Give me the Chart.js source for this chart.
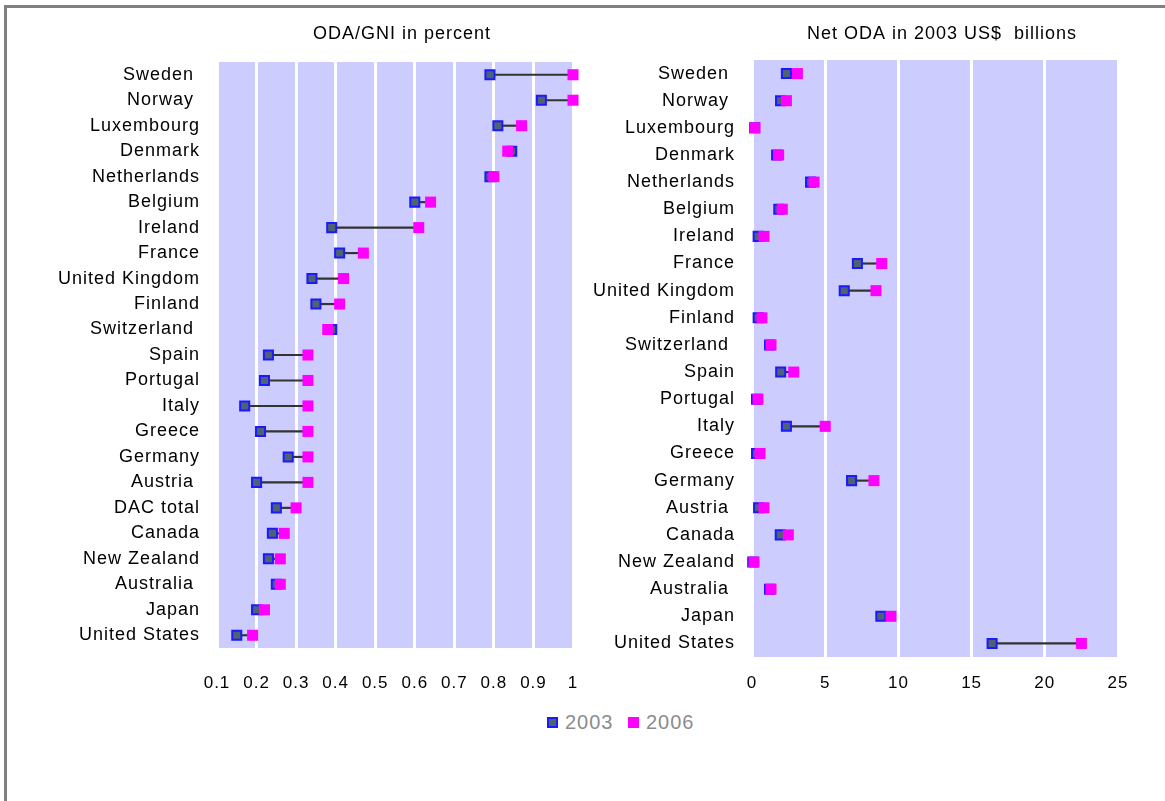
<!DOCTYPE html>
<html>
<head>
<meta charset="utf-8">
<title>ODA/GNI and net ODA, 2003 and 2006</title>
<script src="https://cdn.jsdelivr.net/npm/chart.js@4.4.1/dist/chart.umd.min.js"></script>
<style>
  html, body { margin: 0; padding: 0; background: #fff; }
  body { width: 1165px; height: 801px; position: relative; overflow: hidden; font-family: 'Liberation Sans', Arial, sans-serif; }
  #frame { position: absolute; left: 4px; top: 5px; width: 1180px; height: 820px; border-top: 3px solid #808080; border-left: 3px solid #808080; }
  #leftBox { position: absolute; left: 0; top: 0; width: 600px; height: 700px; }
  #rightBox { position: absolute; left: 580px; top: 0; width: 585px; height: 710px; }
  .key { position: absolute; top: 717px; }
  .k03 { left: 547px; width: 7px; height: 7px; border: 2px solid #1a1aff; background: #4f6272; }
  .k06 { left: 628px; width: 11px; height: 11px; background: #ff00ff; }
  .lab { position: absolute; top: 710px; font-size: 20px; line-height: 24px; color: #8c8c8c; letter-spacing: 1px; }
</style>
</head>
<body>
<div id="frame"></div>
<div id="leftBox"><canvas id="gniChart"></canvas></div>
<div id="rightBox"><canvas id="odaChart"></canvas></div>
<span class="key k03"></span><span class="lab" style="left:565px">2003</span>
<span class="key k06"></span><span class="lab" style="left:646px">2006</span>
<script>
// ODA as share of GNI (percent)
var gniCountries = ['Sweden ', 'Norway ', 'Luxembourg', 'Denmark', 'Netherlands', 'Belgium', 'Ireland',
  'France', 'United Kingdom', 'Finland', 'Switzerland ', 'Spain', 'Portugal', 'Italy', 'Greece',
  'Germany', 'Austria ', 'DAC total', 'Canada', 'New Zealand', 'Australia ', 'Japan', 'United States'];
var gni2003 = [0.79, 0.92, 0.81, 0.845, 0.79, 0.60, 0.39, 0.41, 0.34, 0.35, 0.39, 0.23, 0.22, 0.17,
  0.21, 0.28, 0.20, 0.25, 0.24, 0.23, 0.25, 0.20, 0.15];
var gni2006 = [1.0, 1.0, 0.87, 0.835, 0.80, 0.64, 0.61, 0.47, 0.42, 0.41, 0.38, 0.33, 0.33, 0.33,
  0.33, 0.33, 0.33, 0.30, 0.27, 0.26, 0.26, 0.22, 0.19];
var gniTicks = [0.1, 0.2, 0.3, 0.4, 0.5, 0.6, 0.7, 0.8, 0.9, 1];

// net ODA, 2003 US$ billions
var odaCountries = ['Sweden ', 'Norway ', 'Luxembourg', 'Denmark', 'Netherlands', 'Belgium', 'Ireland',
  'France', 'United Kingdom', 'Finland', 'Switzerland ', 'Spain', 'Portugal', 'Italy', 'Greece',
  'Germany', 'Austria ', 'Canada', 'New Zealand', 'Australia ', 'Japan', 'United States'];
var oda2003 = [2.35, 1.95, 0.18, 1.68, 4.0, 1.83, 0.42, 7.2, 6.3, 0.42, 1.2, 1.96, 0.31, 2.35,
  0.31, 6.8, 0.45, 1.93, 0.05, 1.2, 8.8, 16.4];
var oda2006 = [3.1, 2.35, 0.2, 1.82, 4.24, 2.07, 0.82, 8.86, 8.47, 0.68, 1.3, 2.85, 0.41, 5.0,
  0.55, 8.33, 0.82, 2.48, 0.14, 1.3, 9.49, 22.5];
var odaTicks = [0, 5, 10, 15, 20, 25];

var fontFamily = "'Liberation Sans', Arial, sans-serif";

// lavender plot area + a bit of letter spacing like the original
var plotBg = {
  id: 'plotBg',
  beforeDraw: function(chart) {
    var a = chart.chartArea;
    var ctx = chart.ctx;
    ctx.save();
    ctx.fillStyle = '#ccccff';
    ctx.fillRect(a.left, a.top, a.right - a.left, a.bottom - a.top);
    ctx.restore();
    ctx.letterSpacing = '1px';
  }
};

// title sits a little right of the plot centre in the original
var plotTitle = {
  id: 'plotTitle',
  afterDraw: function(chart, args, opts) {
    var a = chart.chartArea;
    var ctx = chart.ctx;
    ctx.save();
    ctx.font = '18px ' + fontFamily;
    ctx.fillStyle = '#000';
    ctx.textAlign = 'center';
    ctx.textBaseline = 'middle';
    ctx.fillText(opts.text, (a.left + a.right) / 2 + opts.shift, opts.y);
    ctx.restore();
  }
};

function makeChart(id, title, labels, v03, v06, tickVals, min, max, yWidth, xHeight, xPad, pad) {
  var spans = [];
  for (var i = 0; i < labels.length; i++) {
    spans.push([v03[i], v06[i]]);
  }
  return new Chart(document.getElementById(id), {
    type: 'bar',
    data: {
      labels: labels,
      datasets: [
        {
          type: 'line',
          label: '2006',
          data: v06,
          showLine: false,
          pointStyle: 'rect',
          pointRadius: 7.8,
          pointBackgroundColor: '#ff00ff',
          pointBorderWidth: 0,
          clip: false,
          order: 0
        },
        {
          type: 'line',
          label: '2003',
          data: v03,
          showLine: false,
          pointStyle: 'rect',
          pointRadius: 6.4,
          pointBackgroundColor: '#4f6272',
          pointBorderColor: '#1a1aff',
          pointBorderWidth: 2,
          clip: false,
          order: 1
        },
        {
          label: 'change',
          data: spans,
          backgroundColor: '#333333',
          barThickness: 1.5,
          order: 2
        }
      ]
    },
    options: {
      indexAxis: 'y',
      responsive: true,
      maintainAspectRatio: false,
      animation: false,
      events: [],
      layout: { padding: pad },
      plugins: {
        legend: { display: false },
        tooltip: { enabled: false },
        plotTitle: { text: title, shift: 7, y: 34 }
      },
      scales: {
        x: {
          type: 'linear',
          min: min,
          max: max,
          afterBuildTicks: function(scale) {
            scale.ticks = tickVals.map(function(v) { return { value: v }; });
          },
          afterFit: function(scale) {
            scale.height = xHeight;
            // tick padding should not push the plot edges in
            scale.paddingLeft = 0;
            scale.paddingRight = 0;
          },
          grid: { color: '#ffffff', lineWidth: 3, drawTicks: false },
          border: { display: false },
          ticks: {
            color: '#000',
            padding: xPad,
            font: { family: fontFamily, size: 17 },
            callback: function(v) { return String(Math.round(v * 10) / 10); }
          }
        },
        y: {
          type: 'category',
          afterFit: function(scale) { scale.width = yWidth; },
          grid: { display: false, drawTicks: false },
          border: { display: false },
          ticks: {
            color: '#000',
            padding: 17,
            autoSkip: false,
            font: { family: fontFamily, size: 18 }
          }
        }
      }
    },
    plugins: [plotBg, plotTitle]
  });
}

makeChart('gniChart', 'ODA/GNI in percent', gniCountries, gni2003, gni2006, gniTicks,
  0.1, 1, 217, 52, 25, { left: 0, right: 27, top: 62, bottom: 0 });
makeChart('odaChart', 'Net ODA in 2003 US$  billions', odaCountries, oda2003, oda2006, odaTicks,
  0, 25, 172, 53, 16, { left: 0, right: 47, top: 60, bottom: 0 });
</script>
</body>
</html>
